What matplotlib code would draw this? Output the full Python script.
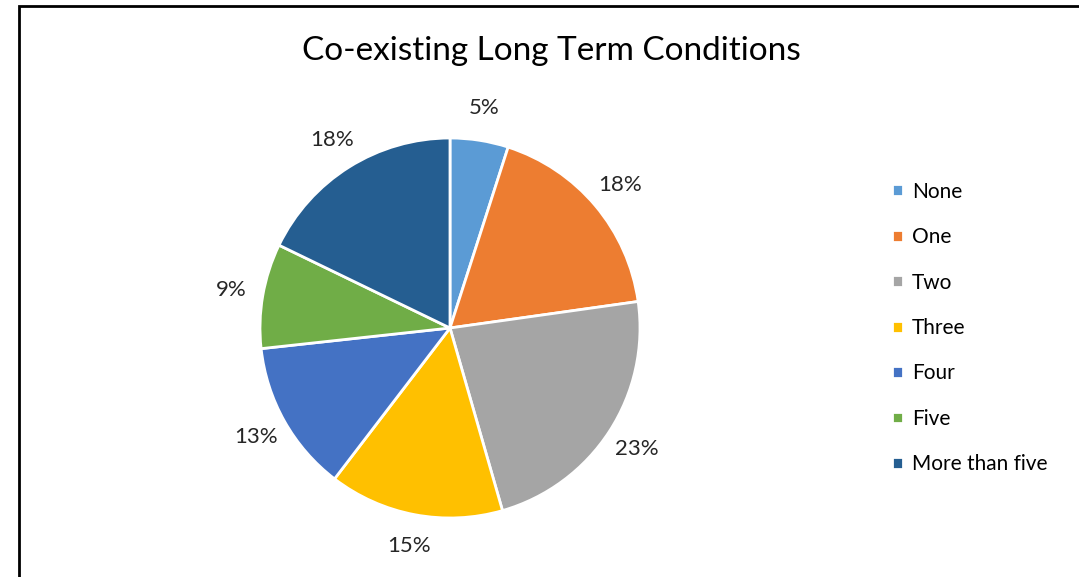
import matplotlib
matplotlib.use('Agg')
import matplotlib.pyplot as plt
from matplotlib.patches import Rectangle

plt.rcParams['font.family'] = ['Lato', 'DejaVu Sans']

# share of patients by number of co-existing long term conditions
categories = ['None', 'One', 'Two', 'Three', 'Four', 'Five', 'More than five']
shares = [5, 18, 23, 15, 13, 9, 18]
colors = ['#5B9BD5', '#ED7D31', '#A5A5A5', '#FFC000', '#4472C4', '#70AD47', '#255E91']

W, H = 1079, 577
fig = plt.figure(figsize=(W / 100, H / 100), dpi=100)

# pie centre (450, 328) px, radius 190 px
cx, cy, r = 450, 328, 190
ax = fig.add_axes([(cx - r) / W, (H - cy - r) / H, 2 * r / W, 2 * r / H])
wedges, _, pcts = ax.pie(
    shares, colors=colors, startangle=90, counterclock=False,
    autopct=lambda p: '{:.0f}%'.format(p), pctdistance=1.17,
    wedgeprops=dict(edgecolor='white', linewidth=2),
    textprops=dict(fontsize=16, color='#262626'))
ax.set_xlim(-1, 1)
ax.set_ylim(-1, 1)

fig.text(551 / W, 1 - 51 / H, 'Co-existing Long Term Conditions',
         ha='center', va='center', fontsize=24, color='#000000')

leg = fig.legend(wedges, categories, loc='center left',
                 bbox_to_anchor=(884 / W, 1 - 328 / H), frameon=False,
                 fontsize=15, handlelength=0.5, handleheight=0.5,
                 handletextpad=0.45, labelspacing=1.22, borderaxespad=0)
for t in leg.get_texts():
    t.set_color('#000000')

# outer frame line
fig.add_artist(Rectangle((19 / W, -0.2), 1.5, 0.2 + 1 - 5.5 / H,
                         transform=fig.transFigure, fill=False,
                         edgecolor='black', linewidth=2))

fig.savefig('out.png', dpi=100)
